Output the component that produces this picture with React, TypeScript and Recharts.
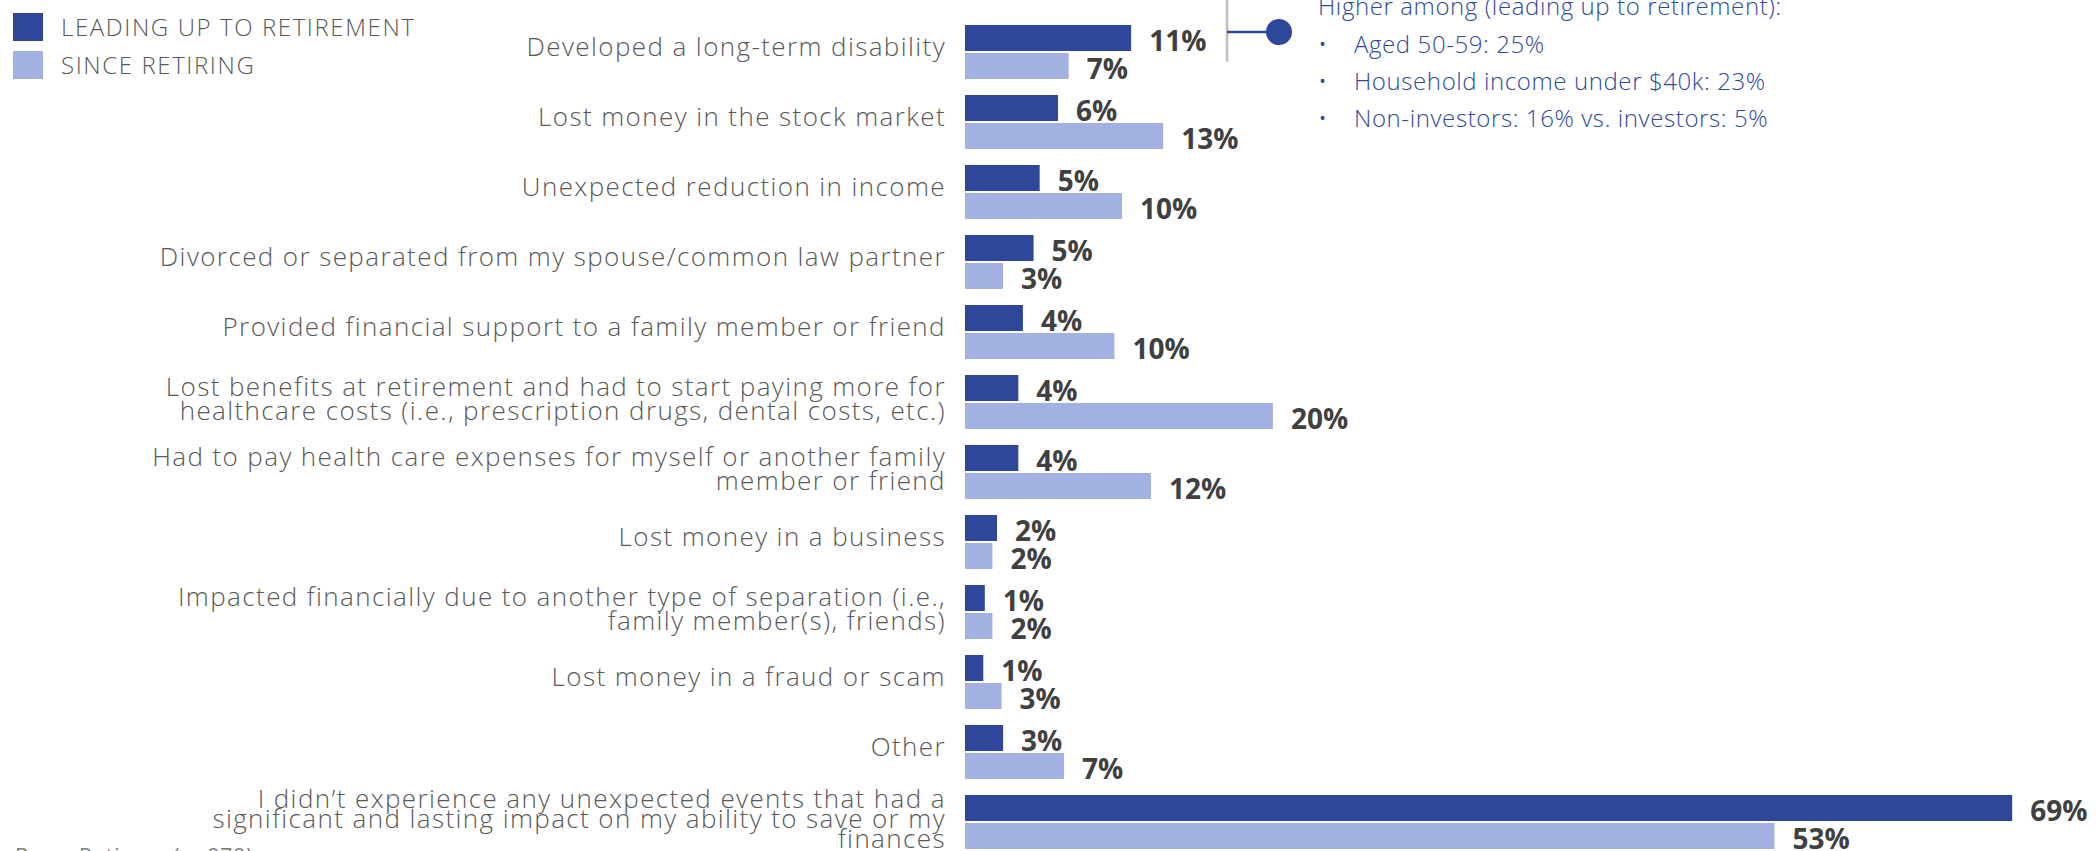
import { BarChart, Bar, XAxis, YAxis, LabelList } from 'recharts'

const categories = [
  'Developed a long-term disability',
  'Lost money in the stock market',
  'Unexpected reduction in income',
  'Divorced or separated from my spouse/common law partner',
  'Provided financial support to a family member or friend',
  'Lost benefits at retirement and had to start paying more for\nhealthcare costs (i.e., prescription drugs, dental costs, etc.)',
  'Had to pay health care expenses for myself or another family\nmember or friend',
  'Lost money in a business',
  'Impacted financially due to another type of separation (i.e.,\nfamily member(s), friends)',
  'Lost money in a fraud or scam',
  'Other',
  'I didn’t experience any unexpected events that had a\nsignificant and lasting impact on my ability to save or my\nfinances',
]

// bar lengths as drawn (unrounded shares)
const leadingUp = [10.9, 6.1, 4.9, 4.5, 3.8, 3.5, 3.5, 2.1, 1.3, 1.2, 2.5, 68.7]
const sinceRetiring = [6.8, 13.0, 10.3, 2.5, 9.8, 20.2, 12.2, 1.8, 1.8, 2.4, 6.5, 53.1]

// printed labels
const leadingUpLabels = [11, 6, 5, 5, 4, 4, 4, 2, 1, 1, 3, 69]
const sinceRetiringLabels = [7, 13, 10, 3, 10, 20, 12, 2, 2, 3, 7, 53]

const seriesNames = ['LEADING UP TO RETIREMENT', 'SINCE RETIRING']
const calloutTitle = 'Higher among (leading up to retirement):'
const calloutItems = ['Aged 50-59: 25%', 'Household income under $40k: 23%', 'Non-investors: 16% vs. investors: 5%']
const baseNote = 'Base: Retirees (n=878)'

const DARK = '#2F479B'
const LIGHT = '#A2B0E2'
const FONT = '"Open Sans", "DejaVu Sans", sans-serif'

const data = categories.map((name, i) => ({
  name,
  lead: leadingUp[i],
  since: sinceRetiring[i],
  leadLabel: leadingUpLabels[i],
  sinceLabel: sinceRetiringLabels[i],
}))

const CategoryTick = (props: any) => {
  const { x, y, payload } = props
  const lines = String(payload.value).split('\n')
  const lh = lines.length > 2 ? 20 : 24
  const shift = lines.length > 1 ? -4 : -6
  const start = y + shift - ((lines.length - 1) * lh) / 2
  return (
    <text
      textAnchor="end"
      fill="#595959"
      fontSize={26}
      fontFamily={FONT}
      fontWeight={300}
      letterSpacing={1.4}
    >
      {lines.map((line, i) => (
        <tspan key={i} x={x - 19} y={start + i * lh} dominantBaseline="central">
          {line}
        </tspan>
      ))}
    </text>
  )
}

const ValueLabel = (props: any) => {
  const { x, y, width, height, value } = props
  return (
    <text
      x={x + width + 18}
      y={y + height / 2 + 1.5}
      dominantBaseline="central"
      fill="#404040"
      fontSize={28}
      fontWeight={700}
      fontFamily={FONT}
    >
      {value}%
    </text>
  )
}

const App = () => {
  return (
    <div
      style={{
        position: 'absolute',
        left: 0,
        top: 0,
        width: 2096,
        height: 851,
        overflow: 'hidden',
        background: '#fff',
        fontFamily: FONT,
      }}
    >
      <BarChart
        layout="vertical"
        width={2096}
        height={860}
        data={data}
        margin={{ top: 17, right: 64, bottom: 3, left: 0 }}
        barSize={26}
        barGap={2}
      >
        <XAxis type="number" hide domain={[0, 70]} />
        <YAxis
          type="category"
          dataKey="name"
          width={965}
          axisLine={false}
          tickLine={false}
          tickSize={0}
          tickMargin={0}
          interval={0}
          tick={<CategoryTick />}
        />
        <Bar dataKey="lead" fill={DARK} isAnimationActive={false}>
          <LabelList dataKey="leadLabel" content={<ValueLabel />} />
        </Bar>
        <Bar dataKey="since" fill={LIGHT} isAnimationActive={false}>
          <LabelList dataKey="sinceLabel" content={<ValueLabel />} />
        </Bar>
      </BarChart>

      {/* legend */}
      {seriesNames.map((s, i) => (
        <div
          key={s}
          style={{ position: 'absolute', left: 13, top: 13 + i * 38, display: 'flex', alignItems: 'center' }}
        >
          <div style={{ width: 30, height: 28, background: i === 0 ? DARK : LIGHT }} />
          <span
            style={{
              marginLeft: 18,
              fontSize: 24,
              color: '#595959',
              fontWeight: 300,
              lineHeight: '28px',
              letterSpacing: 1.6,
              whiteSpace: 'nowrap',
            }}
          >
            {s}
          </span>
        </div>
      ))}

      {/* callout */}
      <svg style={{ position: 'absolute', left: 1200, top: 0 }} width={120} height={70}>
        <line x1={27} y1={0} x2={27} y2={62} stroke="#BFBFBF" strokeWidth={2.5} />
        <line x1={27} y1={32} x2={70} y2={32} stroke={DARK} strokeWidth={2.5} />
        <circle cx={79} cy={32} r={13} fill={DARK} />
      </svg>
      <div
        style={{
          position: 'absolute',
          left: 1318,
          top: 0,
          color: '#2E4A9E',
          fontSize: 24,
          fontWeight: 300,
          letterSpacing: 0.6,
        }}
      >
        <div style={{ position: 'absolute', left: 0, top: -13, whiteSpace: 'nowrap', lineHeight: '37px' }}>
          {calloutTitle}
        </div>
        {calloutItems.map((t, i) => (
          <div
            key={t}
            style={{ position: 'absolute', left: 0, top: 25 + 37 * i, whiteSpace: 'nowrap', lineHeight: '37px' }}
          >
            <span style={{ display: 'inline-block', width: 36 }}>•</span>
            {t}
          </div>
        ))}
      </div>

      <div
        style={{
          position: 'absolute',
          left: 15,
          top: 842,
          fontSize: 21,
          color: '#7F7F7F',
          whiteSpace: 'nowrap',
          letterSpacing: 1,
        }}
      >
        {baseNote}
      </div>
    </div>
  )
}

export default App
